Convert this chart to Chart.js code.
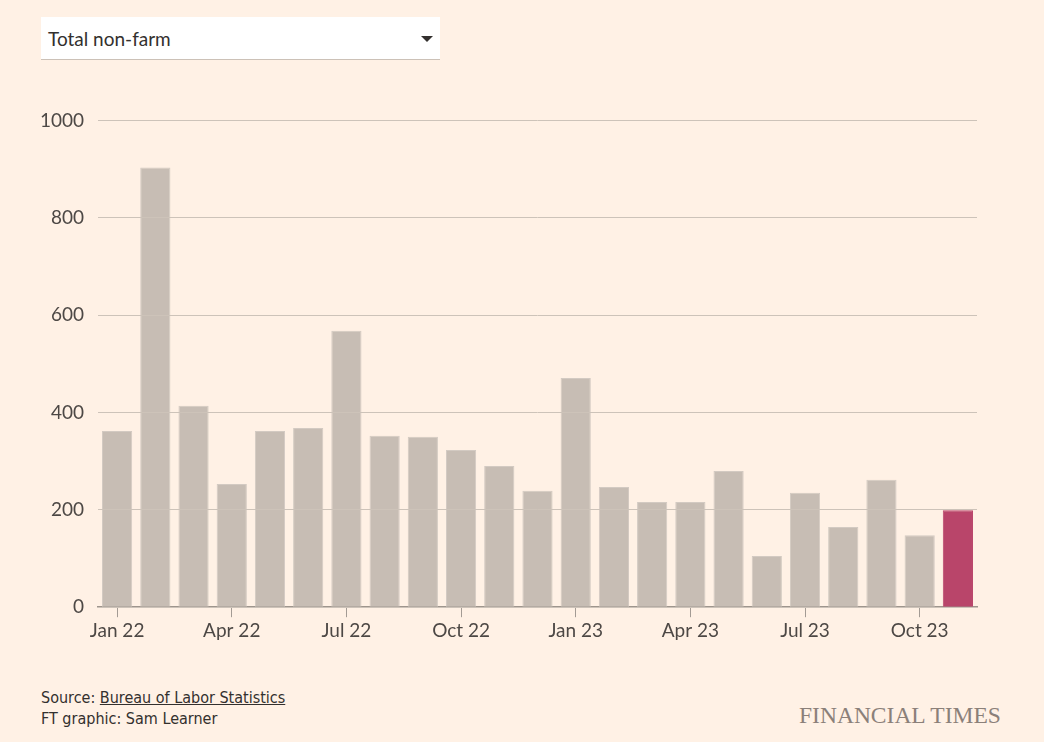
<!DOCTYPE html>
<html>
<head>
<meta charset="utf-8">
<script src="https://cdn.jsdelivr.net/npm/chart.js@4"></script>
<style>
body{margin:0;background:#fff1e5;width:1044px;height:742px;overflow:hidden;position:relative;font-family:Lato,"Open Sans",sans-serif;color:#33302e;}
.select{position:absolute;left:41px;top:17px;width:399px;height:42px;background:#fff;border-bottom:1px solid #ccc1b7;}
.select span{position:absolute;left:7px;top:10px;font-size:19px;color:#33302e;}
.select i{position:absolute;right:7px;top:19px;width:0;height:0;border-left:6px solid transparent;border-right:6px solid transparent;border-top:6px solid #33302e;}
#wrap{position:absolute;left:30px;top:95px;width:950px;height:549px;}
.foot{position:absolute;left:41px;top:687px;font-family:"Liberation Sans Narrow","DejaVu Sans Condensed",sans-serif;font-size:16px;line-height:21px;color:#33302e;}
.foot u{text-decoration:underline;}
.logo{position:absolute;left:799px;top:702px;font-family:"Liberation Serif",serif;font-size:24px;color:#8b8079;transform:scaleX(0.98);transform-origin:left top;white-space:nowrap;}
</style>
</head>
<body>
<div class="select"><span>Total non-farm</span><i></i></div>
<div id="wrap"><canvas id="chart"></canvas></div>
<div class="foot">Source: <u>Bureau of Labor Statistics</u><br>FT graphic: Sam Learner</div>
<div class="logo">FINANCIAL TIMES</div>
<script>
//月份
var months=['Jan 22','Feb 22','Mar 22','Apr 22','May 22','Jun 22','Jul 22','Aug 22','Sep 22','Oct 22','Nov 22','Dec 22',
	'Jan 23','Feb 23','Mar 23','Apr 23','May 23','Jun 23','Jul 23','Aug 23','Sep 23','Oct 23','Nov 23'];
//新增就业(千)
var jobs=[362,903,414,253,362,368,568,352,350,323,290,239,471,247,216,216,280,105,235,165,262,148,199];
//y轴刻度
var yTicks=[0,200,400,600,800,1000];

var barColors=jobs.map(function(v,i){return i==jobs.length-1?'#b9456a':'#c7bdb4';});
var borderColors=jobs.map(function(v,i){return i==jobs.length-1?'#b9456a':'#d3cac2';});

var ctx=document.getElementById('chart');
var chart=new Chart(ctx,{
	type:'bar',
	data:{
		labels:months,
		datasets:[{
			data:jobs,
			backgroundColor:barColors,
			borderColor:borderColors,
			borderWidth:1,
			barPercentage:0.79,
			categoryPercentage:1
		}]
	},
	options:{
		responsive:true,
		maintainAspectRatio:false,
		animation:false,
		layout:{padding:{top:20,right:3,bottom:0,left:0}},
		plugins:{legend:{display:false},tooltip:{enabled:false}},
		scales:{
			y:{
				min:0,max:1000,
				afterBuildTicks:function(s){s.ticks=yTicks.map(function(v){return {value:v};});},
				afterFit:function(s){s.width=68;},
				border:{display:false},
				grid:{color:'#cdc3b9',drawTicks:false,z:1},
				ticks:{padding:14,color:'#4d4845',font:{family:'Lato',size:19},
					callback:function(v){return String(v);}}
			},
			x:{
				border:{display:true,color:'#9e958d',width:1.5},
				grid:{
					offset:false,
					drawOnChartArea:false,
					tickLength:10,
					color:function(c){return c.index%3==0?'#a39b94':'transparent';}
				},
				ticks:{
					autoSkip:false,maxRotation:0,padding:2,
					color:'#4d4845',font:{family:'Lato',size:19},
					callback:function(v,i){return i%3==0?months[i]:'';}
				}
			}
		}
	}
});
</script>
</body>
</html>
